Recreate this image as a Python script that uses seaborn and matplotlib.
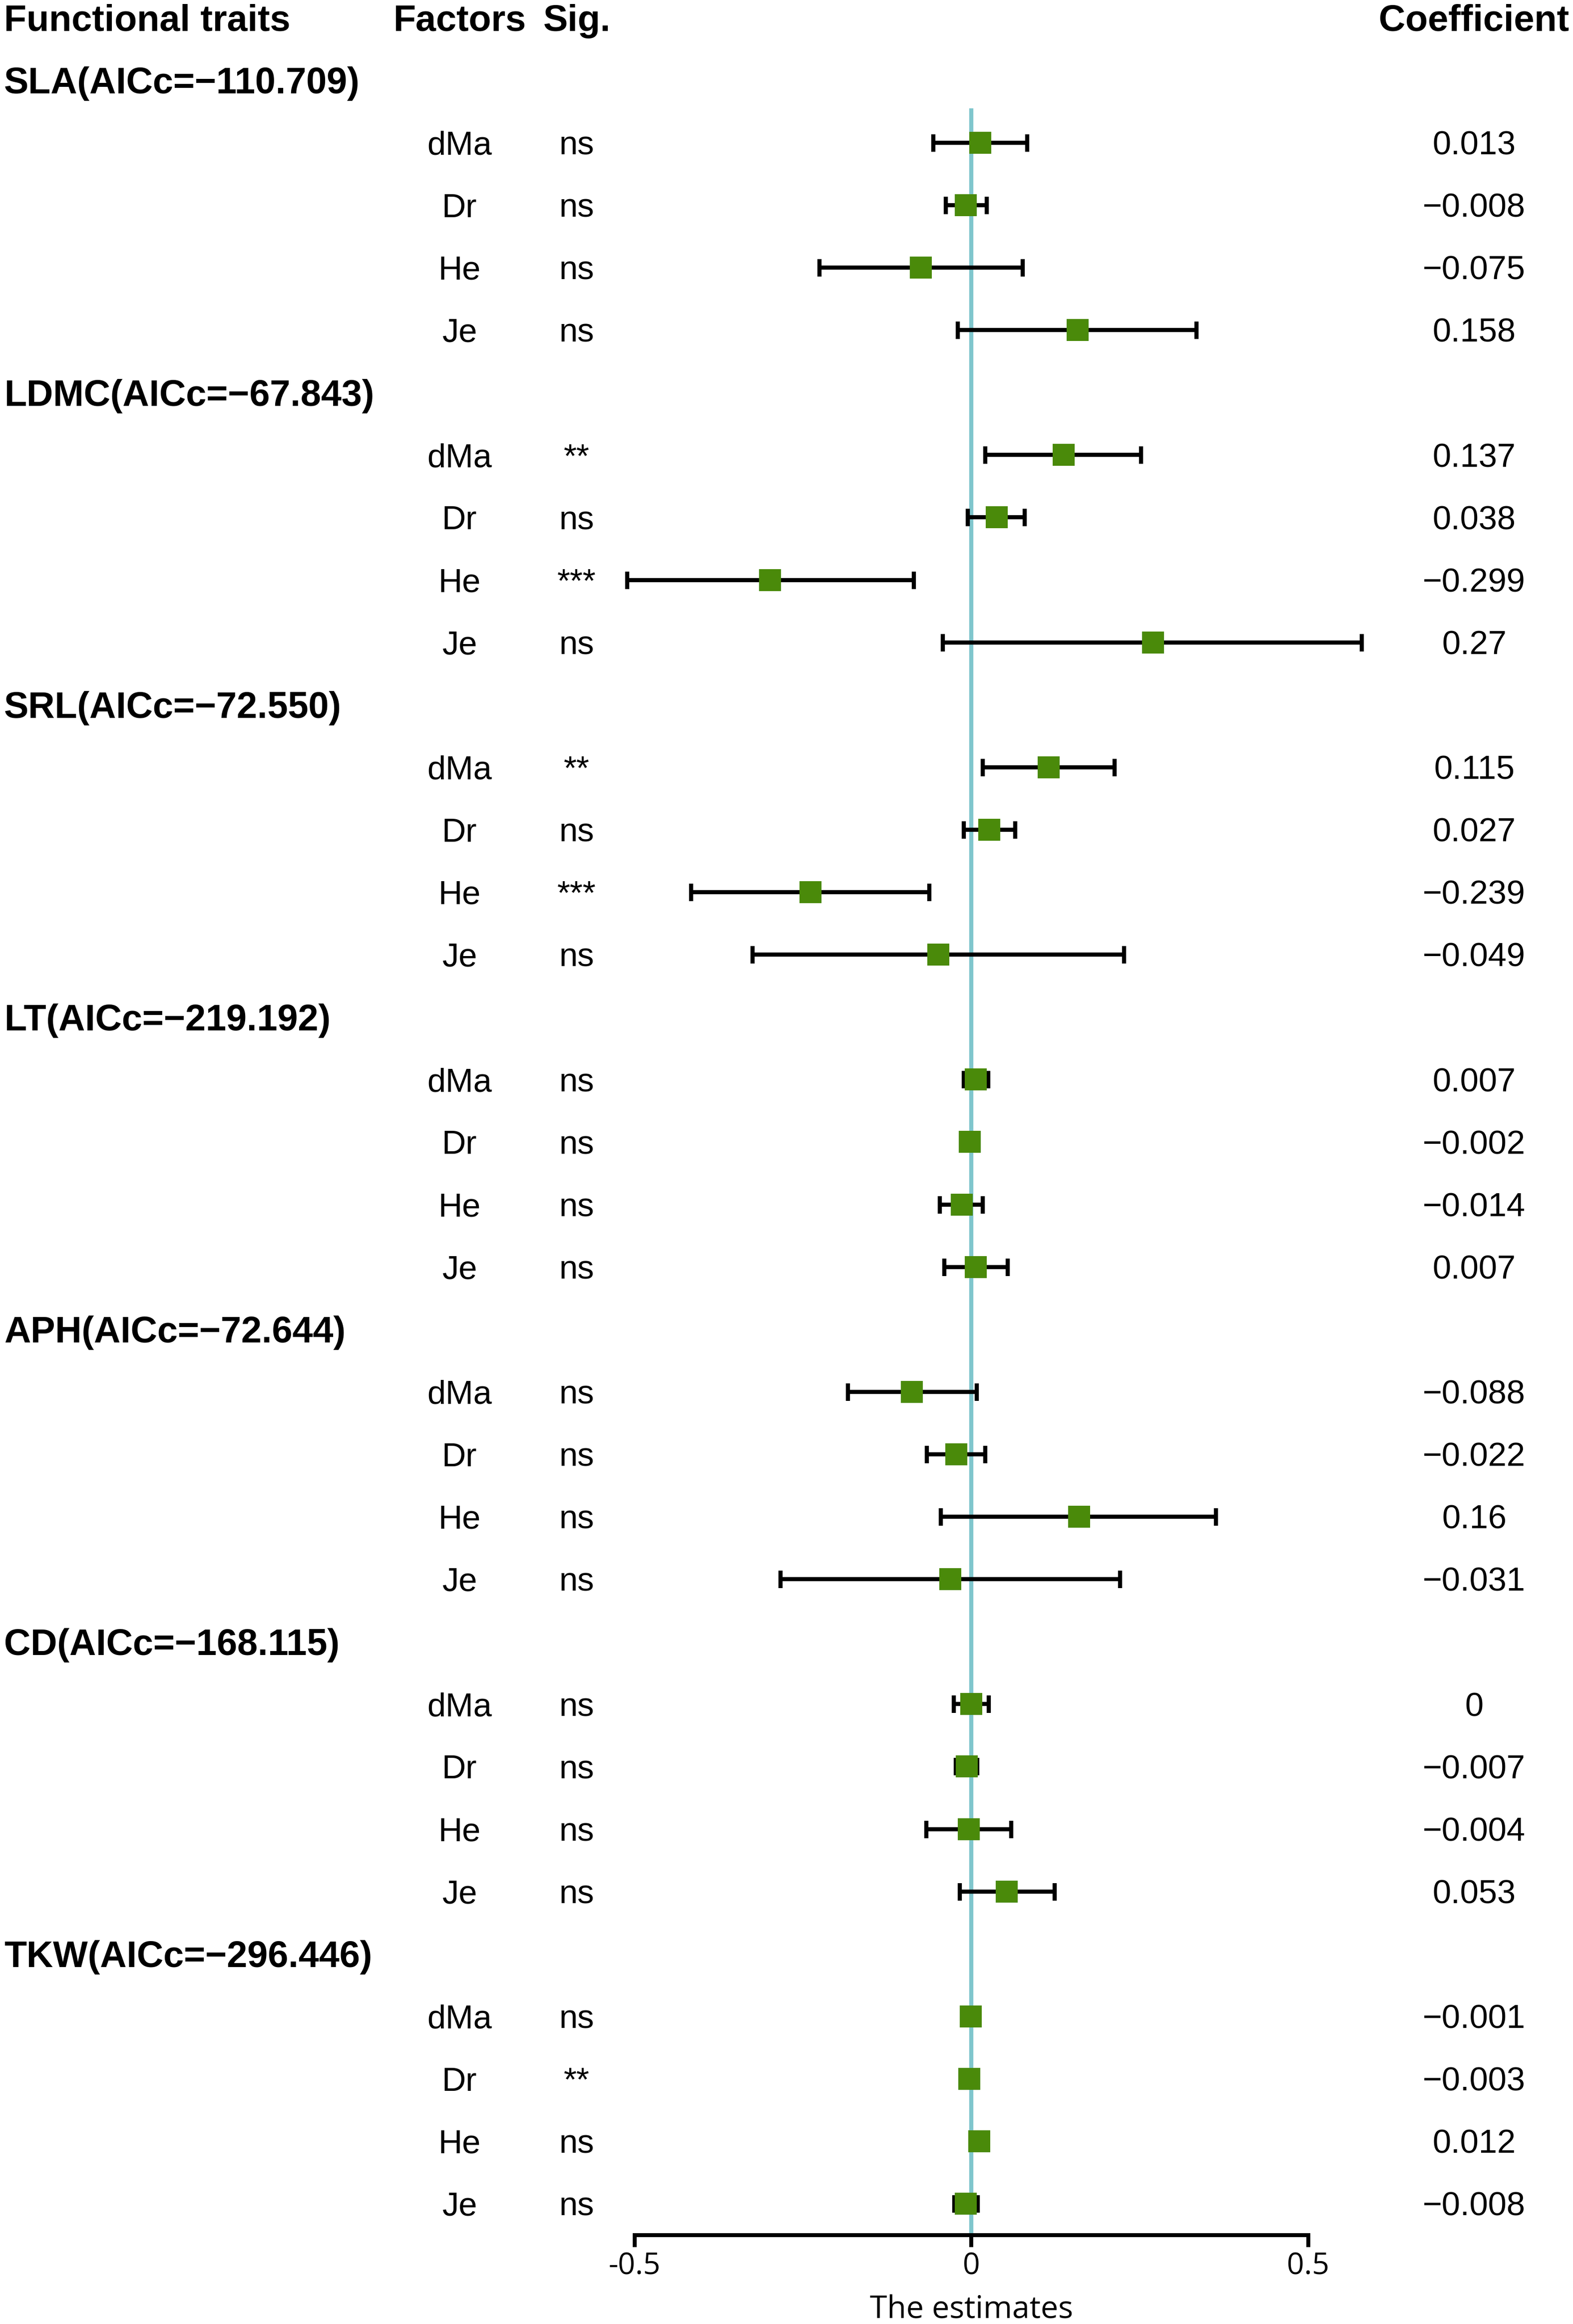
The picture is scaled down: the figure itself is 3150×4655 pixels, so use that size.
import numpy as np
import pandas as pd
import matplotlib.pyplot as plt
import seaborn as sns

# ---------- data ----------
traits = ["SLA", "LDMC", "SRL", "LT", "APH", "CD", "TKW"]
aicc = ["−110.709", "−67.843", "−72.550", "−219.192", "−72.644", "−168.115", "−296.446"]
factors = ["dMa", "Dr", "He", "Je"]

coef = [0.013, -0.008, -0.075, 0.158,
        0.137, 0.038, -0.299, 0.27,
        0.115, 0.027, -0.239, -0.049,
        0.007, -0.002, -0.014, 0.007,
        -0.088, -0.022, 0.16, -0.031,
        0.0, -0.007, -0.004, 0.053,
        -0.001, -0.003, 0.012, -0.008]
lower = [-0.056, -0.038, -0.225, -0.020,
         0.021, -0.005, -0.511, -0.042,
         0.017, -0.011, -0.416, -0.325,
         -0.011, -0.006, -0.047, -0.040,
         -0.183, -0.066, -0.045, -0.283,
         -0.026, -0.023, -0.067, -0.017,
         -0.005, -0.007, 0.007, -0.025]
upper = [0.083, 0.023, 0.076, 0.334,
         0.252, 0.079, -0.085, 0.580,
         0.213, 0.065, -0.062, 0.227,
         0.025, 0.002, 0.017, 0.054,
         0.008, 0.021, 0.363, 0.221,
         0.026, 0.009, 0.059, 0.124,
         0.003, 0.001, 0.017, 0.010]
sig = ["ns", "ns", "ns", "ns",
       "**", "ns", "***", "ns",
       "**", "ns", "***", "ns",
       "ns", "ns", "ns", "ns",
       "ns", "ns", "ns", "ns",
       "ns", "ns", "ns", "ns",
       "ns", "**", "ns", "ns"]
tick_values = [-0.5, 0, 0.5]
tick_labels = ["-0.5", "0", "0.5"]

# ---------- layout ----------
W, H, DPI = 3150, 4655, 300
ZERO_PX, UNIT_PX = 1945, 1349      # x position of 0 and width of one unit
ROW0_PX, ROW_PX = 35.7, 125.1      # centre of header row and row pitch

def px2x(px):
    return (px - ZERO_PX) / UNIT_PX

rows = []
for i in range(len(traits)):
    for j in range(len(factors)):
        rows.append(2 + 5 * i + j)

df = pd.DataFrame({
    "row": rows,
    "factor": factors * len(traits),
    "coef": coef,
    "lower": lower,
    "upper": upper,
    "sig": sig,
})

sns.set_theme(style="white")
FAM = ['Liberation Sans', 'DejaVu Sans']
plt.rcParams['font.family'] = FAM
plt.rcParams['text.color'] = 'black'

fig = plt.figure(figsize=(W / DPI, H / DPI), dpi=DPI)
ax = fig.add_axes([0, 0, 1, 1])
ax.patch.set_alpha(0)

axis_row = 35.5

# reference line at zero
ax.vlines(0, 1.45, axis_row, color="#80C6CD", lw=2.0, zorder=1)

# confidence intervals
ax.errorbar(df["coef"], df["row"],
            xerr=[df["coef"] - df["lower"], df["upper"] - df["coef"]],
            fmt="none", ecolor="black", elinewidth=2.0,
            capsize=4.2, capthick=2.0, zorder=2, clip_on=False)

# estimates
sns.scatterplot(data=df, x="coef", y="row", marker="s", s=112,
                color="#4A8A0A", linewidth=0, zorder=3, legend=False,
                ax=ax, clip_on=False)

ax.set_xlim(px2x(0), px2x(W))
ax.set_ylim((H - ROW0_PX) / ROW_PX, -ROW0_PX / ROW_PX)

# ---------- text columns ----------
bold = dict(family=FAM, fontweight="bold", fontsize=17.7, va="baseline")
reg = dict(family=FAM, fontweight="normal", fontsize=16, va="baseline")
b_off, r_off = 0.21, 0.19

ax.text(px2x(8), 0 + b_off, "Functional traits", ha="left", **bold)
ax.text(px2x(920), 0 + b_off, "Factors", ha="center", **bold)
ax.text(px2x(1155), 0 + b_off, "Sig.", ha="center", **bold)
ax.text(px2x(2952), 0 + b_off, "Coefficient", ha="center", **bold)

for i, t in enumerate(traits):
    ax.text(px2x(8), 1 + 5 * i + b_off, f"{t}(AICc={aicc[i]})", ha="left", **bold)

for _, r in df.iterrows():
    y = r["row"] + r_off
    ax.text(px2x(920), y, r["factor"], ha="center", **reg)
    ax.text(px2x(1155), y, r["sig"], ha="center", **reg)
    lab = f"{r['coef']:g}".replace("-", "−")
    ax.text(px2x(2952), y, lab, ha="center", **reg)

# ---------- axis ----------
for s in ["top", "left", "right"]:
    ax.spines[s].set_visible(False)
ax.spines["bottom"].set_position(("data", axis_row))
ax.spines["bottom"].set_bounds(-0.5, 0.5)
ax.spines["bottom"].set_linewidth(1.9)
ax.spines["bottom"].set_color("black")
ax.set_yticks([])
ax.set_xticks(tick_values)
ax.set_xticklabels(tick_labels, fontfamily="Open Sans", fontsize=14.5)
ax.tick_params(axis="x", direction="out", length=5.8, width=1.9,
               pad=2, colors="black", bottom=True)
ax.set_xlabel("")
ax.set_ylabel("")

ax.text(0, (H - 11) / ROW_PX - ROW0_PX / ROW_PX, "The estimates",
        ha="center", va="baseline", fontfamily="Open Sans", fontsize=15)

fig.savefig("out.png", dpi=DPI)
